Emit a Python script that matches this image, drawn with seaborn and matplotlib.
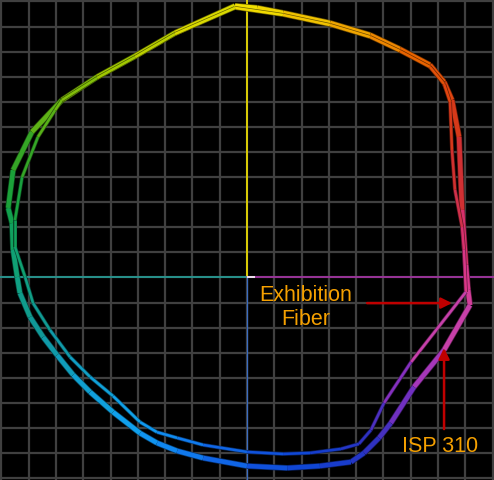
import numpy as np
import pandas as pd
import matplotlib
matplotlib.use("Agg")
import matplotlib.pyplot as plt
import matplotlib.patheffects as pe
import seaborn as sns

# ---------------- data (a*/b*-like chroma coordinates) ----------------
isp_x = [-4.4, 3.7, 13.2, 30.4, 45.1, 56.0, 67.0, 72.2, 75.1, 77.7, 78.8, 80.2, 81.0, 81.7,
         72.2, 61.2, 52.7, 48.4, 42.9, 38.1, 26.7, 14.7, 0.0, -16.1, -25.6, -33.0, -39.2,
         -49.1, -57.5, -63.7, -69.6, -74.7, -79.5, -83.2, -84.2, -85.7, -86.1, -87.5, -85.7,
         -78.8, -67.8, -54.9, -41.0, -26.4]
isp_y = [108.2, 107.4, 105.4, 101.4, 96.6, 91.0, 84.7, 77.9, 70.7, 56.0, 26.9, 5.0, -5.0, -11.0,
         -28.9, -43.6, -58.0, -63.9, -69.9, -73.5, -75.1, -75.9, -75.1, -71.9, -69.1, -65.9, -62.0,
         -53.6, -45.6, -38.8, -30.9, -23.7, -15.7, -6.2, 0.2, 11.0, 21.7, 27.7, 42.8,
         58.0, 70.7, 79.9, 88.2, 97.4]

fiber_x = [-4.4, 13.2, 30.4, 45.1, 56.0, 67.0, 72.2, 74.4, 75.1, 76.2, 78.8, 79.5, 80.2,
           60.1, 50.2, 45.4, 41.0, 34.4, 23.1, 13.2, 0.0, -16.1, -25.6, -33.0, -39.2, -49.1,
           -57.5, -64.8, -72.2, -78.4, -81.3, -85.0, -85.0, -82.4, -76.6, -70.3, -67.8, -54.9,
           -41.0, -26.4]
fiber_y = [107.4, 104.6, 100.6, 95.8, 90.2, 83.9, 77.1, 69.9, 50.8, 34.9, 20.1, 11.0, -5.8,
           -33.7, -50.0, -60.8, -66.3, -68.3, -69.9, -70.3, -69.5, -66.7, -63.9, -61.6, -57.6, -47.2,
           -39.6, -31.7, -20.9, -10.2, 0.2, 12.2, 22.9, 40.0, 56.0, 66.7, 70.7, 79.5,
           87.8, 97.0]

series_names = ["ISP 310", "Exhibition Fiber"]

# ---------------- style ----------------
hue_deg = [0, 10, 20, 35, 45, 55, 65, 80, 90, 105, 120, 135, 145, 155, 165, 180, 195,
           215, 235, 250, 270, 290, 305, 315, 325, 340, 352, 360]
hue_hex = ["#d8388c", "#d83070", "#d03048", "#d03020", "#e04410", "#e86400", "#f09800",
           "#f0c800", "#f0e000", "#c8d400", "#a0c800", "#70b810", "#40a820", "#20a030",
           "#10a050", "#10a080", "#109898", "#10a0d0", "#10a0f0", "#1080f0", "#1058e0",
           "#1040d0", "#3030c0", "#6030c0", "#9030c0", "#c040b0", "#d040a0", "#d8388c"]
hue_rgb = np.array([matplotlib.colors.to_rgb(h) for h in hue_hex])


def hue_color(x, y):
    ang = np.degrees(np.arctan2(y, x)) % 360
    return tuple(np.interp(ang, hue_deg, hue_rgb[:, k]) for k in range(3))


sns.set_theme(style="dark")
plt.rcParams["font.family"] = ["Liberation Sans", "DejaVu Sans"]

fig = plt.figure(figsize=(4.94, 4.80), dpi=100)
fig.patch.set_facecolor("black")
ax = fig.add_axes([0, 0, 1, 1])
ax.set_facecolor("black")
XL = (-90.5, 90.5)
YL = (-80.68, 110.56)
ax.set_xlim(*XL)
ax.set_ylim(*YL)
ax.set_xticks(np.arange(-90, 91, 10))
ax.set_yticks(np.arange(-80, 111, 10))
ax.grid(True, color="#404040", linewidth=1.6)
ax.tick_params(length=0, labelbottom=False, labelleft=False)
for s in ax.spines.values():
    s.set_visible(False)

# axis reference lines from the centre
y0 = (0 - YL[0]) / (YL[1] - YL[0])
x0 = (0 - XL[0]) / (XL[1] - XL[0])
ax.axvline(0, ymin=y0, ymax=1, color="#e8d800", lw=1.3, zorder=2)
ax.axvline(0, ymin=0, ymax=y0, color="#3a6cc0", lw=0.9, zorder=2)
ax.axhline(0, xmin=0, xmax=x0, color="#20a8a0", lw=1.1, zorder=2)
ax.axhline(0, xmin=x0, xmax=1, color="#b030b0", lw=1.1, zorder=2)
ax.hlines(0, 0, 2.8, color="white", lw=1.2, zorder=2)


def draw_curve(xs, ys, lw, tag):
    xs = list(xs) + [xs[0]]
    ys = list(ys) + [ys[0]]
    rows, pal = [], {}
    for i in range(len(xs) - 1):
        key = f"{tag}{i:03d}"
        rows.append((xs[i], ys[i], key))
        rows.append((xs[i + 1], ys[i + 1], key))
        pal[key] = hue_color((xs[i] + xs[i + 1]) / 2, (ys[i] + ys[i + 1]) / 2)
    df = pd.DataFrame(rows, columns=["x", "y", "seg"])
    n_before = len(ax.lines)
    sns.lineplot(data=df, x="x", y="y", hue="seg", palette=pal, sort=False,
                 estimator=None, legend=False, linewidth=lw, ax=ax, zorder=3)
    for ln in ax.lines[n_before:]:
        c = np.array(matplotlib.colors.to_rgb(ln.get_color()))
        ln.set_solid_capstyle("butt")
        ln.set_path_effects([pe.Stroke(linewidth=lw + 1.0, foreground=tuple(c * 0.45)),
                             pe.Normal()])


draw_curve(isp_x, isp_y, 3.3, "a")
draw_curve(fiber_x, fiber_y, 1.8, "b")
ax.set_xlabel("")
ax.set_ylabel("")

# annotations
txt_c = "#f5a000"
arr_c = "#c00000"
ax.text(21.6, -11.8, "Exhibition\nFiber", color=txt_c, fontsize=15.5, ha="center",
        va="center", multialignment="center", zorder=5)
ax.text(70.7, -67.3, series_names[0], color=txt_c, fontsize=15.5, ha="center",
        va="center", zorder=5)
ax.annotate("", xy=(75.1, -10.2), xytext=(44.0, -10.2),
            arrowprops=dict(arrowstyle="-|>", color=arr_c, lw=1.8, mutation_scale=16,
                            shrinkA=0, shrinkB=0), zorder=5)
ax.annotate("", xy=(72.2, -28.1), xytext=(72.2, -60.4),
            arrowprops=dict(arrowstyle="-|>", color=arr_c, lw=1.8, mutation_scale=16,
                            shrinkA=0, shrinkB=0), zorder=5)

fig.savefig("out.png", dpi=100, facecolor="black")
